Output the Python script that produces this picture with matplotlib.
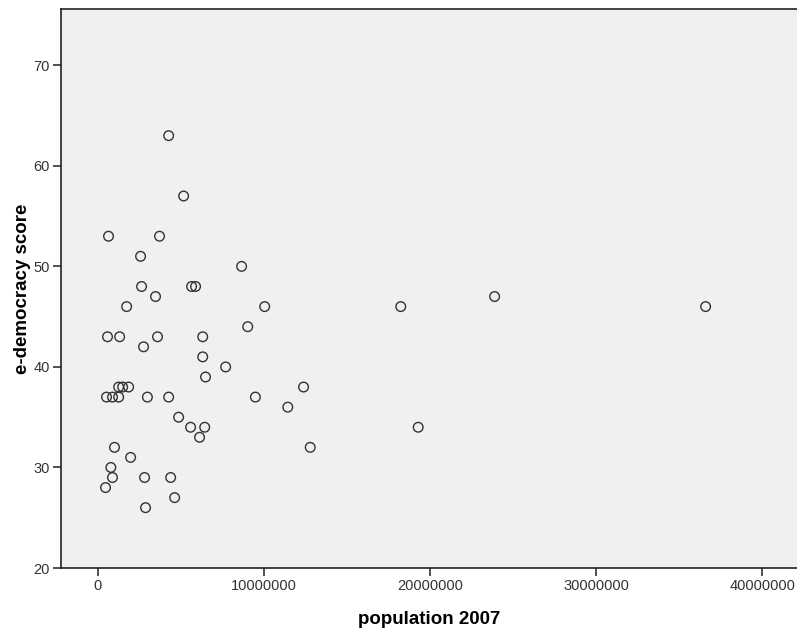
import matplotlib.pyplot as plt

plt.rcParams['font.family'] = ['Liberation Sans', 'DejaVu Sans']

# Population 2007 vs e-democracy score, one point per country
population = [
    4.28e6, 5.18e6, 0.66e6, 3.73e6, 2.59e6, 8.67e6, 2.65e6, 5.66e6, 5.90e6,
    3.49e6, 1.75e6, 10.06e6, 18.25e6, 23.9e6, 36.6e6, 9.04e6,
    0.60e6, 1.33e6, 3.61e6, 6.33e6, 2.77e6, 6.33e6, 7.71e6, 6.50e6,
    1.27e6, 1.51e6, 1.87e6, 12.4e6,
    0.54e6, 0.90e6, 1.27e6, 3.00e6, 4.28e6, 9.50e6,
    11.45e6, 4.88e6, 5.60e6, 6.45e6, 19.3e6, 6.14e6, 1.02e6, 12.8e6,
    1.99e6, 0.80e6, 0.90e6, 2.83e6, 4.40e6, 0.48e6, 4.64e6, 2.89e6,
]
score = [
    63, 57, 53, 53, 51, 50, 48, 48, 48,
    47, 46, 46, 46, 47, 46, 44,
    43, 43, 43, 43, 42, 41, 40, 39,
    38, 38, 38, 38,
    37, 37, 37, 37, 37, 37,
    36, 35, 34, 34, 34, 33, 32, 32,
    31, 30, 29, 29, 29, 28, 27, 26,
]

fig = plt.figure(figsize=(7.97, 6.33), dpi=100)
ax = fig.add_axes([61 / 797, 65 / 633, 736 / 797, 559 / 633])
ax.set_facecolor('#f0f0f0')

ax.scatter(population, score, s=48, facecolors='none', edgecolors='#333333',
           linewidths=1.0, zorder=3)

ax.set_xlim(-2.2e6, 42.1e6)
ax.set_ylim(20, 75.6)
ax.set_xticks([0, 10000000, 20000000, 30000000, 40000000])
ax.set_xticklabels(['0', '10000000', '20000000', '30000000', '40000000'])
ax.set_yticks([20, 30, 40, 50, 60, 70])

ax.spines['right'].set_visible(False)
for side in ['left', 'bottom', 'top']:
    ax.spines[side].set_color('#222222')
    ax.spines[side].set_linewidth(1.2)

ax.tick_params(axis='both', direction='out', length=6, width=1.2,
               color='#333333', labelsize=10.5, labelcolor='#333333', pad=2)

ax.set_xlabel('population 2007', fontsize=13.5, fontweight='bold', labelpad=13)
ax.set_ylabel('e-democracy score', fontsize=13.5, fontweight='bold', labelpad=1.5)

fig.savefig('out.png', dpi=100)
